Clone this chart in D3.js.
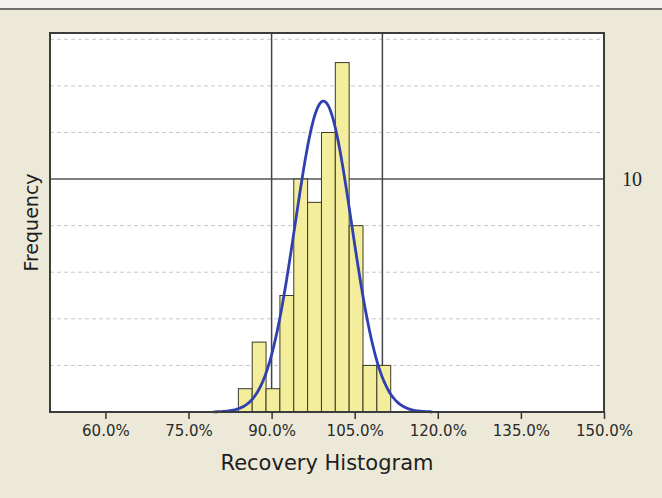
<!DOCTYPE html>
<html>
<head>
<meta charset="utf-8">
<script src="https://cdn.jsdelivr.net/npm/d3@7"></script>
<style>
  html, body { margin: 0; padding: 0; background: #ece9d8; }
  svg { display: block; }
</style>
</head>
<body>
<div id="chart"></div>
<script>
// histogram bins (left edge, %) and counts
const binLeft = [84, 86.5, 89, 91.5, 94, 96.5, 99, 101.5, 104, 106.5, 109];
const counts  = [1, 3, 1, 5, 10, 9, 12, 15, 8, 2, 2];
const binWidth = 2.5;

// fitted normal curve
const fitMean = 99.35;
const fitSigma = 5.08;
const fitRange = [79.5, 119];

const xTicks = [60, 75, 90, 105, 120, 135, 150];
const specLimits = [90, 110];
const refLevel = 10;
const gridLevels = [2, 4, 6, 8, 12, 14, 16];

const width = 662, height = 498;
const plot = { left: 50, right: 604, top: 33, bottom: 412 };

const svg = d3.select("#chart").append("svg")
  .attr("width", width)
  .attr("height", height);

// window background
svg.append("rect").attr("width", width).attr("height", height).attr("fill", "#ece9d8");
svg.append("rect").attr("width", width).attr("height", 9).attr("fill", "#f3f2ee");
svg.append("line")
  .attr("x1", 0).attr("x2", width).attr("y1", 9).attr("y2", 9)
  .attr("stroke", "#6e6e6e").attr("stroke-width", 2);

const x = d3.scaleLinear().domain([50, 150]).range([plot.left, plot.right]);
const y = d3.scaleLinear().domain([0, 16.27]).range([plot.bottom, plot.top]);

// plot area
svg.append("rect")
  .attr("x", plot.left).attr("y", plot.top)
  .attr("width", plot.right - plot.left).attr("height", plot.bottom - plot.top)
  .attr("fill", "#fff");

// dashed gridlines
svg.append("g")
  .selectAll("line")
  .data(gridLevels)
  .join("line")
  .attr("x1", plot.left).attr("x2", plot.right)
  .attr("y1", d => y(d)).attr("y2", d => y(d))
  .attr("stroke", "#c8c8c8")
  .attr("stroke-width", 1)
  .attr("stroke-dasharray", "4,3");

// reference line at 10
svg.append("line")
  .attr("x1", plot.left).attr("x2", plot.right)
  .attr("y1", y(refLevel)).attr("y2", y(refLevel))
  .attr("stroke", "#555").attr("stroke-width", 1.5);

// spec limit lines
svg.append("g")
  .selectAll("line")
  .data(specLimits)
  .join("line")
  .attr("x1", d => x(d)).attr("x2", d => x(d))
  .attr("y1", plot.top).attr("y2", plot.bottom)
  .attr("stroke", "#444").attr("stroke-width", 1.5);

// bars
svg.append("g")
  .selectAll("rect")
  .data(binLeft)
  .join("rect")
  .attr("x", d => x(d))
  .attr("width", x(binWidth) - x(0))
  .attr("y", (d, i) => y(counts[i]))
  .attr("height", (d, i) => y(0) - y(counts[i]))
  .attr("fill", "#f4ee9c")
  .attr("stroke", "#3a3a2a")
  .attr("stroke-width", 1);

// normal fit curve
const n = d3.sum(counts);
const pdf = v => Math.exp(-0.5 * ((v - fitMean) / fitSigma) ** 2) / (fitSigma * Math.sqrt(2 * Math.PI));
const curvePts = d3.range(fitRange[0], fitRange[1] + 0.01, 0.25).map(v => [v, n * binWidth * pdf(v)]);

svg.append("path")
  .datum(curvePts)
  .attr("fill", "none")
  .attr("stroke", "#3040b0")
  .attr("stroke-width", 2.8)
  .attr("d", d3.line().x(d => x(d[0])).y(d => y(d[1])).curve(d3.curveBasis));

// frame
svg.append("rect")
  .attr("x", plot.left).attr("y", plot.top)
  .attr("width", plot.right - plot.left).attr("height", plot.bottom - plot.top)
  .attr("fill", "none")
  .attr("stroke", "#3c3c3c").attr("stroke-width", 2);

// x axis
const xAxis = d3.axisBottom(x)
  .tickValues(xTicks)
  .tickSize(7)
  .tickPadding(6)
  .tickFormat(d => d.toFixed(1) + "%");

const gx = svg.append("g")
  .attr("transform", `translate(0,${plot.bottom})`)
  .call(xAxis);
gx.select(".domain").remove();
gx.selectAll(".tick line").attr("stroke", "#333").attr("stroke-width", 1.5);
gx.selectAll(".tick text")
  .attr("fill", "#2a2a2a")
  .style("font-family", "'DejaVu Sans', sans-serif")
  .style("font-size", "15px");

// axis titles
svg.append("text")
  .attr("x", (plot.left + plot.right) / 2)
  .attr("y", 470)
  .attr("text-anchor", "middle")
  .attr("fill", "#1e1e1e")
  .style("font-family", "'DejaVu Sans', sans-serif")
  .style("font-size", "21px")
  .text("Recovery Histogram");

svg.append("text")
  .attr("transform", `translate(38,${(plot.top + plot.bottom) / 2}) rotate(-90)`)
  .attr("text-anchor", "middle")
  .attr("fill", "#1e1e1e")
  .style("font-family", "'DejaVu Sans', sans-serif")
  .style("font-size", "19px")
  .text("Frequency");

// right label for reference level
svg.append("text")
  .attr("x", 632)
  .attr("y", y(refLevel))
  .attr("dy", "0.33em")
  .attr("text-anchor", "middle")
  .attr("fill", "#1e1e1e")
  .style("font-family", "'Liberation Serif', serif")
  .style("font-size", "20px")
  .text(refLevel);
</script>
</body>
</html>
